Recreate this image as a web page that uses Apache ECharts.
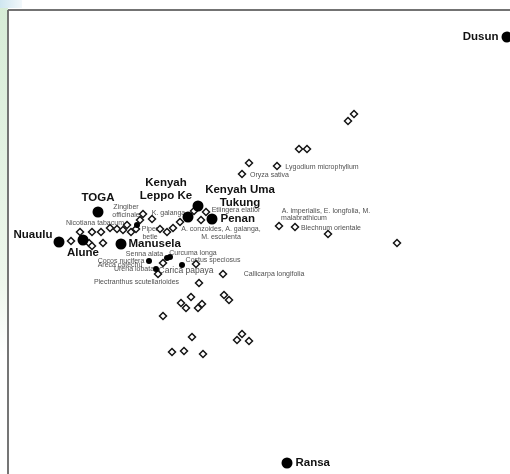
<!DOCTYPE html>
<html><head><meta charset="utf-8">
<script src="https://cdn.jsdelivr.net/npm/echarts@6/dist/echarts.min.js"></script>
<style>html,body{margin:0;padding:0;background:#fff}#c{width:510px;height:474px}</style>
</head><body><div id="c"></div>
<script>
// Correspondence-analysis scores (dimension 1, dimension 2)
const groupNames = ['Dusun','TOGA','Nuaulu','Alune','Manusela','Kenyah Leppo Ke','Kenyah Uma Tukung','Penan','Ransa'];
const groupDim1  = [4.99, 0.90, 0.51, 0.75, 1.13, 1.80, 1.90, 2.04, 2.79];
const groupDim2  = [4.57, 2.82, 2.52, 2.54, 2.50, 2.77, 2.88, 2.75, 0.31];

// species shared / highlighted (small filled marks)
const markedDim1 = [1.29, 1.41, 1.59, 1.62, 1.74, 1.48];
const markedDim2 = [2.69, 2.33, 2.36, 2.37, 2.29, 2.25];

// species (open diamonds)
const speciesDim1 = [0.63,0.72,0.81,0.84,0.84,0.93,0.95,1.02,1.09,1.15,1.19,1.23,1.28,1.32,1.35,1.44,1.52,1.59,1.65,1.72,1.86,1.98,1.93,
  1.55,1.50,1.88,2.15,1.91,1.83,1.73,1.78,1.94,1.90,2.16,2.21,1.55,1.84,1.64,1.76,1.95,2.29,2.34,2.41,
  2.41,2.34,2.69,2.91,2.99,3.40,3.46,2.71,2.87,3.20,3.89];
const speciesDim2 = [2.53,2.62,2.51,2.48,2.62,2.62,2.51,2.66,2.65,2.64,2.69,2.62,2.65,2.74,2.80,2.75,2.65,2.62,2.66,2.72,2.83,2.82,2.74,
  2.31,2.20,2.30,2.20,2.11,1.97,1.91,1.86,1.90,1.86,1.99,1.94,1.78,1.57,1.42,1.43,1.40,1.54,1.60,1.53,
  3.31,3.20,3.28,3.45,3.45,3.73,3.80,2.68,2.67,2.60,2.51];

// species name labels and where their text sits
const speciesLabels = ['Zingiber\nofficinale','K. galanga','Etlingera elatior','Nicotiana tabacum','Piper\nbetle',
  'A. conzoides, A. galanga,\nM. esculenta','Senna alata','Curcuma longa','Costus speciosus','Cocos nucifera',
  'Areca catechu','Urena lobata','Carica papaya','Callicarpa longifolia','Plectranthus scutellarioides',
  'Oryza sativa','Lygodium microphyllum','A. imperialis, E. longfolia, M.','malabrathicum','Blechnum orientale'];
const labelDim1 = [1.18,1.605,2.28,0.87,1.42,2.13,1.365,1.85,2.05,1.13,1.12,1.26,1.78,2.66,1.285,2.615,3.14,3.18,2.96,3.23];
const labelDim2 = [2.825,2.81,2.84,2.71,2.605,2.61,2.40,2.41,2.34,2.33,2.29,2.25,2.23,2.20,2.12,3.19,3.27,2.83,2.76,2.66];

const FONT = '"Liberation Sans", Arial, sans-serif';
const groupLabelLayout = {
  'Dusun': {position:'left', distance:3},
  'TOGA': {position:'top', distance:2},
  'Nuaulu': {position:'left', distance:1, offset:[0,-7]},
  'Alune': {position:'bottom', distance:1},
  'Manusela': {position:'right', distance:2},
  'Kenyah Leppo Ke': {position:'inside', offset:[-22,-28], formatter:'Kenyah\nLeppo Ke', align:'center'},
  'Kenyah Uma Tukung': {position:'inside', offset:[42,-10], formatter:'Kenyah Uma\nTukung', align:'center'},
  'Penan': {position:'right', distance:3},
  'Ransa': {position:'right', distance:3}
};

const chart = echarts.init(document.getElementById('c'), null, {renderer:'canvas'});
const groupData = groupNames.map((n,i)=>{
  const L = groupLabelLayout[n];
  return {name:n, value:[groupDim1[i], groupDim2[i]], label:Object.assign({show:true}, L)};
});
const speciesData = speciesDim1.map((x,i)=>[x, speciesDim2[i]]);
const markedData = markedDim1.map((x,i)=>[x, markedDim2[i]]);
const labelData = speciesLabels.map((t,i)=>({name:t, value:[labelDim1[i], labelDim2[i]],
  label: t==='Carica papaya' ? {fontSize:8.5} : {}}));

chart.setOption({
  animation:false,
  backgroundColor:'#ffffff',
  graphic:[
    {type:'rect', left:0, top:0, shape:{width:8, height:474}, z:-1,
     style:{fill:new echarts.graphic.LinearGradient(0,0,0,1,[{offset:0,color:'#d6ecd6'},{offset:0.6,color:'#eef7ec'},{offset:0.75,color:'#ffffff'}])}},
    {type:'rect', left:0, top:0, shape:{width:22, height:8}, z:-1,
     style:{fill:new echarts.graphic.LinearGradient(0,0,1,0,[{offset:0,color:'#cfe6f0'},{offset:1,color:'#f2f8fb'}])}},
    {type:'line', shape:{x1:8, y1:10, x2:510, y2:10}, style:{stroke:'#444', lineWidth:1.3}, z:1},
    {type:'line', shape:{x1:8, y1:10, x2:8, y2:474}, style:{stroke:'#666', lineWidth:1.8}, z:1}
  ],
  grid:{left:8, top:10, right:0, bottom:0, show:false, outerBoundsMode:'none'},
  xAxis:{type:'value', min:0, max:5.02, show:false},
  yAxis:{type:'value', min:0.20, max:4.84, show:false},
  series:[
    {type:'scatter', name:'species', data:speciesData, symbol:'diamond', symbolSize:7, clip:false,
     itemStyle:{color:'#ffffff', borderColor:'#151515', borderWidth:1.5, opacity:1}, z:3},
    {type:'scatter', name:'marked', data:markedData, symbol:'circle', symbolSize:6, clip:false,
     itemStyle:{color:'#000', opacity:1}, z:4},
    {type:'scatter', name:'labels', data:labelData, symbolSize:0, silent:true, z:5, clip:false,
     label:{show:true, position:'inside', formatter:'{b}', fontFamily:FONT, fontSize:7, color:'#222', lineHeight:8, align:'center', verticalAlign:'middle'}},
    {type:'scatter', name:'groups', data:groupData, symbol:'circle', symbolSize:11, clip:false,
     itemStyle:{color:'#000', opacity:1}, z:6,
     label:{show:true, formatter:'{b}', fontFamily:FONT, fontSize:11.5, fontWeight:'bold', color:'#111', lineHeight:13}}
  ]
});
</script></body></html>
